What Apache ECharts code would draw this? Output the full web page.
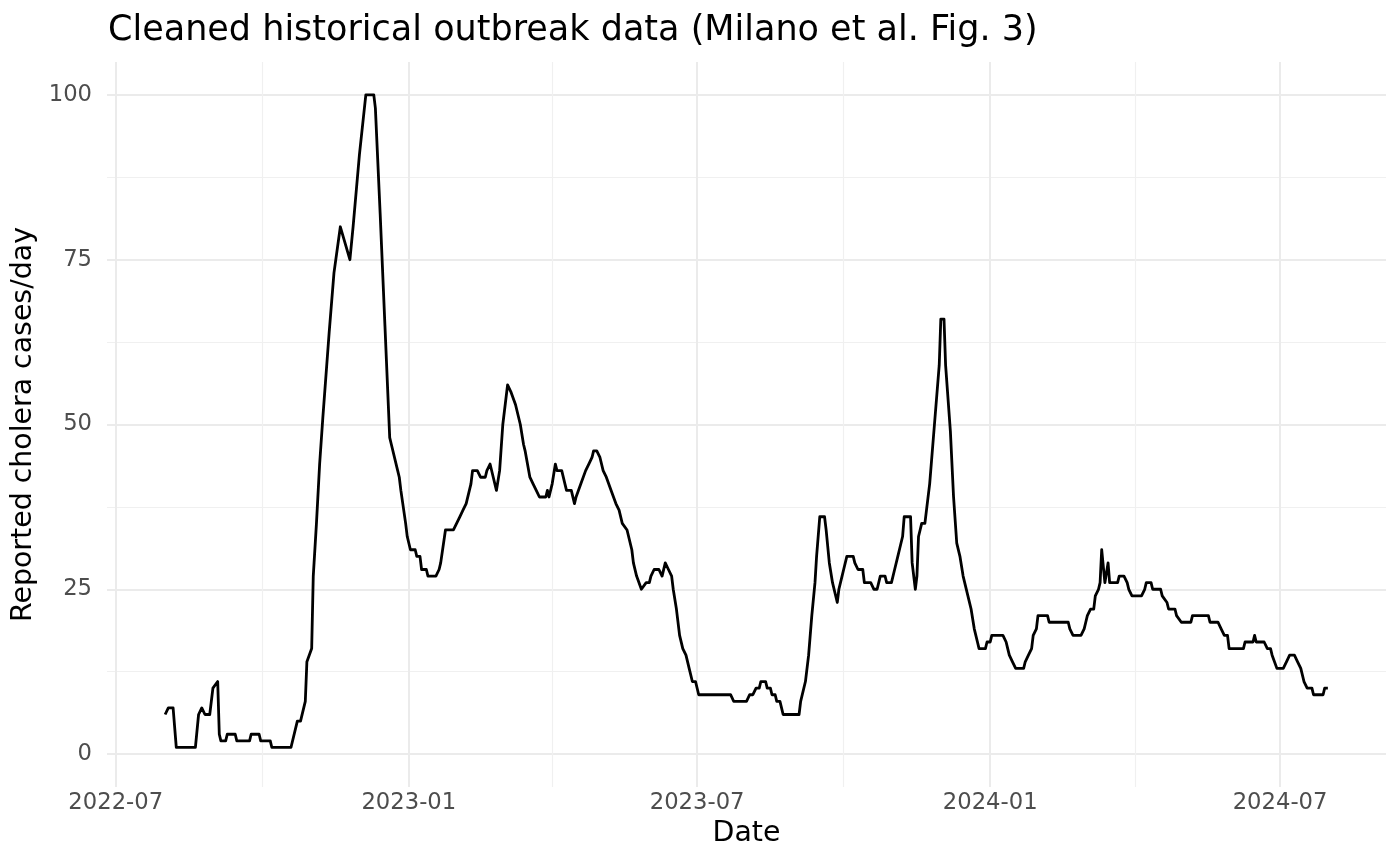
<!DOCTYPE html>
<html>
<head>
<meta charset="utf-8">
<script src="https://cdn.jsdelivr.net/npm/echarts@6/dist/echarts.min.js"></script>
<style>
html,body{margin:0;padding:0;background:#fff;}
#chart{width:1400px;height:865px;}
</style>
</head>
<body>
<div id="chart"></div>
<script>
const titleText = 'Cleaned historical outbreak data (Milano et al. Fig. 3)';
const xName = 'Date';
const yName = 'Reported cholera cases/day';
const xTicks = ['2022-07-01','2023-01-01','2023-07-01','2024-01-01','2024-07-01'];
const xMinorTicks = ['2022-10-01','2023-04-01','2023-10-01','2024-04-01'];
const yTicks = [0,25,50,75,100];

const dates = [
'2022-08-01','2022-08-03','2022-08-06','2022-08-08','2022-08-20','2022-08-22','2022-08-24','2022-08-26','2022-08-29','2022-08-31',
'2022-09-01','2022-09-03','2022-09-04','2022-09-05','2022-09-08','2022-09-09','2022-09-14','2022-09-15','2022-09-23','2022-09-24',
'2022-09-29','2022-09-30','2022-10-06','2022-10-07','2022-10-19','2022-10-23','2022-10-25','2022-10-28','2022-10-29','2022-11-01',
'2022-11-02','2022-11-04','2022-11-06','2022-11-08','2022-11-12','2022-11-15','2022-11-19','2022-11-20','2022-11-25','2022-11-27',
'2022-12-01','2022-12-05','2022-12-10','2022-12-11','2022-12-14','2022-12-17','2022-12-20','2022-12-21','2022-12-25','2022-12-26',
'2022-12-27','2022-12-28','2022-12-30','2022-12-31','2023-01-02','2023-01-05','2023-01-06','2023-01-08','2023-01-09','2023-01-12',
'2023-01-13','2023-01-18','2023-01-20','2023-01-21','2023-01-24','2023-01-29','2023-01-31','2023-02-02','2023-02-04','2023-02-06',
'2023-02-09','2023-02-10','2023-02-13','2023-02-15','2023-02-18','2023-02-19','2023-02-21','2023-02-23','2023-02-25','2023-02-27',
'2023-03-01','2023-03-04','2023-03-06','2023-03-07','2023-03-09','2023-03-12','2023-03-14','2023-03-15','2023-03-16','2023-03-18',
'2023-03-20','2023-03-22','2023-03-24','2023-03-28','2023-03-29','2023-03-30','2023-04-01','2023-04-03','2023-04-04','2023-04-07',
'2023-04-09','2023-04-10','2023-04-13','2023-04-15','2023-04-16','2023-04-19','2023-04-22','2023-04-24','2023-04-26','2023-04-27',
'2023-04-29','2023-05-01','2023-05-03','2023-05-05','2023-05-08','2023-05-11','2023-05-13','2023-05-15','2023-05-18','2023-05-21',
'2023-05-22','2023-05-24','2023-05-27','2023-05-28','2023-05-30','2023-06-01','2023-06-02','2023-06-04','2023-06-07','2023-06-09',
'2023-06-11','2023-06-13','2023-06-15','2023-06-16','2023-06-18','2023-06-20','2023-06-22','2023-06-24','2023-06-26','2023-06-28',
'2023-06-30','2023-07-02','2023-07-22','2023-07-24','2023-08-01','2023-08-03','2023-08-05','2023-08-07','2023-08-09','2023-08-10',
'2023-08-13','2023-08-14','2023-08-16','2023-08-17','2023-08-19','2023-08-20','2023-08-22','2023-08-23','2023-08-24','2023-09-03',
'2023-09-04','2023-09-07','2023-09-09','2023-09-11','2023-09-13','2023-09-14','2023-09-16','2023-09-19','2023-09-20','2023-09-22',
'2023-09-24','2023-09-27','2023-09-28','2023-09-30','2023-10-01','2023-10-03','2023-10-07','2023-10-08','2023-10-10','2023-10-13',
'2023-10-14','2023-10-18','2023-10-20','2023-10-22','2023-10-24','2023-10-27','2023-10-28','2023-10-31','2023-11-02','2023-11-04',
'2023-11-05','2023-11-07','2023-11-08','2023-11-12','2023-11-13','2023-11-15','2023-11-16','2023-11-17','2023-11-18','2023-11-19',
'2023-11-21','2023-11-22','2023-11-24','2023-11-25','2023-11-27','2023-11-30','2023-12-01','2023-12-03','2023-12-04','2023-12-07',
'2023-12-09','2023-12-11','2023-12-13','2023-12-15','2023-12-16','2023-12-18','2023-12-20','2023-12-22','2023-12-24',
'2023-12-25','2023-12-29','2023-12-30','2024-01-01','2024-01-02','2024-01-09','2024-01-11','2024-01-12','2024-01-13','2024-01-15',
'2024-01-17','2024-01-22','2024-01-23','2024-01-25','2024-01-27','2024-01-28','2024-01-30','2024-01-31','2024-02-06','2024-02-07',
'2024-02-19','2024-02-20','2024-02-22','2024-02-27','2024-02-29','2024-03-01','2024-03-02','2024-03-04','2024-03-06','2024-03-07',
'2024-03-09','2024-03-10','2024-03-11','2024-03-13','2024-03-15','2024-03-16','2024-03-21','2024-03-22','2024-03-25','2024-03-27',
'2024-03-28','2024-03-30','2024-04-05','2024-04-07','2024-04-08','2024-04-11','2024-04-12','2024-04-17','2024-04-18','2024-04-21',
'2024-04-22','2024-04-26','2024-04-27','2024-04-30','2024-05-06','2024-05-07','2024-05-17','2024-05-18','2024-05-23','2024-05-25',
'2024-05-27','2024-05-29','2024-05-30','2024-06-08','2024-06-09','2024-06-14','2024-06-15','2024-06-16','2024-06-21','2024-06-23',
'2024-06-25','2024-06-26','2024-06-29','2024-07-03','2024-07-05','2024-07-07','2024-07-10','2024-07-12','2024-07-14','2024-07-16',
'2024-07-18','2024-07-21','2024-07-22','2024-07-28','2024-07-29','2024-07-31'
];

const cases = [
6,7,7,1,1,6,7,6,6,10,
10,11,3,2,2,3,3,2,2,3,
3,2,2,1,1,5,5,8,14,16,
27,35,44,51,64,73,80,80,75,80,
91,100,100,98,82,65,48,47,43,42,
40,40,35,33,31,31,30,30,28,28,
27,27,28,29,34,34,35,36,37,38,
41,43,43,42,42,43,44,42,40,43,
50,56,55,55,53,50,47,46,46,42,
41,40,39,39,40,39,41,44,43,43,
41,40,40,38,39,41,43,44,45,46,
46,45,43,42,40,38,37,35,34,31,
29,27,25,25,26,26,27,28,28,27,
29,28,27,25,22,18,16,15,13,11,
11,9,9,8,8,9,9,10,10,11,
11,10,10,9,9,8,8,7,6,6,
8,11,15,21,26,30,36,36,34,29,
26,23,25,27,28,30,30,29,28,28,
26,26,25,25,27,27,26,26,28,30,
31,33,36,36,29,25,27,33,34,35,
35,37,41,44,50,59,66,66,59,49,
39,32,30,27,27,24,22,19,17,
16,16,17,17,18,18,17,16,15,14,
13,13,14,15,16,18,19,21,21,20,
20,19,18,18,19,20,21,22,22,24,
25,26,31,26,29,26,26,27,27,26,
25,24,24,25,26,26,25,25,24,23,
22,22,21,20,20,21,21,20,20,19,
18,18,16,16,17,17,18,17,17,16,
16,15,13,13,14,15,15,14,13,11,
10,10,9,9,10,10
];

function toUTC(s){ const p = s.split('-').map(Number); return Date.UTC(p[0], p[1]-1, p[2]); }
const DAY = 86400000;
const firstT = toUTC(dates[0]), lastT = toUTC(dates[dates.length-1]);
const padT = (lastT - firstT) * 0.05;
const xMin = firstT - padT, xMax = lastT + padT;
const yPad = (yTicks[yTicks.length-1] - yTicks[0]) * 0.05;
const xTickSet = new Set(xTicks.map(toUTC));
const seriesData = dates.map((d,i) => [toUTC(d), cases[i]]);

const FONT = 'DejaVu Sans';
const GRID_L = 107, GRID_R = 14, PANEL_TOP = 62, PANEL_BOTTOM = 78;
const INNER_TOP = 95, INNER_BOTTOM = 111;

const gridLineData = xTicks.map(d => ({xAxis: toUTC(d), lineStyle: {color: '#ebebeb', width: 2, type: 'solid'}}))
  .concat(xMinorTicks.map(d => ({xAxis: toUTC(d), lineStyle: {color: '#f0f0f0', width: 1.2, type: 'solid'}})));

const chart = echarts.init(document.getElementById('chart'), null, {renderer:'canvas'});
chart.setOption({
  useUTC: true,
  animation: false,
  backgroundColor: '#ffffff',
  title: {
    text: titleText, left: 103, top: 8,
    textStyle: {fontFamily: FONT, fontSize: 35, fontWeight: 'normal', color: '#000'}
  },
  grid: [
    {left: GRID_L, right: GRID_R, top: PANEL_TOP, bottom: PANEL_BOTTOM, containLabel: false},
    {left: GRID_L, right: GRID_R, top: INNER_TOP, bottom: INNER_BOTTOM, containLabel: false}
  ],
  xAxis: [
    {
      type: 'time', gridIndex: 0, min: xMin, max: xMax,
      minInterval: 180*DAY, maxInterval: 185*DAY,
      axisLine: {show: false}, axisTick: {show: false},
      axisLabel: {
        fontFamily: FONT, fontSize: 22.7, color: '#4d4d4d', margin: 5,
        formatter: function(v){
          if (!xTickSet.has(v)) return '';
          const d = new Date(v);
          const m = d.getUTCMonth()+1;
          return d.getUTCFullYear() + '-' + (m<10?'0':'') + m;
        }
      },
      splitLine: {show: false},
      minorSplitLine: {show: false},
      name: xName, nameLocation: 'middle', nameGap: 33,
      nameTextStyle: {fontFamily: FONT, fontSize: 28.4, color: '#000'}
    },
    {type: 'value', gridIndex: 1, show: false, min: 0, max: 1}
  ],
  yAxis: [
    {type: 'value', gridIndex: 0, show: false, min: yTicks[0]-yPad, max: yTicks[yTicks.length-1]+yPad,
     splitLine: {show: false}},
    {
      type: 'value', gridIndex: 1, min: yTicks[0], max: yTicks[yTicks.length-1], interval: yTicks[1]-yTicks[0],
      axisLine: {show: false}, axisTick: {show: false},
      axisLabel: {fontFamily: FONT, fontSize: 22.7, color: '#4d4d4d', margin: 15},
      splitLine: {show: true, lineStyle: {color: '#ebebeb', width: 2}},
      minorTick: {show: false, splitNumber: 2},
      minorSplitLine: {show: true, lineStyle: {color: '#f0f0f0', width: 1.2}},
      name: yName, nameLocation: 'middle', nameGap: 61, nameRotate: 90,
      nameTextStyle: {fontFamily: FONT, fontSize: 28.4, color: '#000'}
    }
  ],
  series: [
    {
      type: 'line', xAxisIndex: 0, yAxisIndex: 0, data: [], z: 1, silent: true,
      markLine: {silent: true, symbol: ['none','none'], label: {show: false}, animation: false,
                 emphasis: {disabled: true}, data: gridLineData}
    },
    {
      type: 'line', xAxisIndex: 0, yAxisIndex: 0,
      data: seriesData, showSymbol: false, symbol: 'none',
      lineStyle: {color: '#000', width: 2.8, join: 'round'},
      z: 5
    }
  ]
});
</script>
</body>
</html>
